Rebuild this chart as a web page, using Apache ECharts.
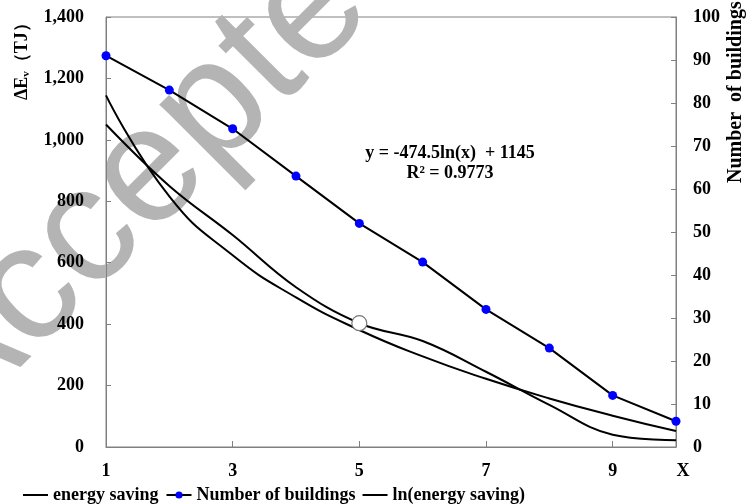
<!DOCTYPE html>
<html><head><meta charset="utf-8">
<script src="https://cdn.jsdelivr.net/npm/echarts@6/dist/echarts.min.js"></script>
<style>html,body{margin:0;padding:0;background:#fff}#c{width:750px;height:504px}</style>
</head><body><div id="c"></div>
<script>
const categories = ['1', '2', '3', '4', '5', '6', '7', '8', '9', 'X'];
const energySaving = [1050, 850, 690, 520, 403, 345, 245, 137, 40, 22];
const buildings = [91, 83, 74, 63, 52, 43, 32, 23, 12, 6];
const lnFit = [1145, 816, 624, 487, 381, 295, 222, 158, 102, 52];
const highlightIndex = 4;
const leftAxisRange = [0, 1400, 200];
const rightAxisRange = [0, 100, 10];
const equationText = ['y = -474.5ln(x)  + 1145', 'R² = 0.9773'];

const SERIF = '"Liberation Serif","Times New Roman",serif';
const chart = echarts.init(document.getElementById('c'), null, {renderer: 'canvas'});
const axisGray = '#808080';
const labelStyle = {color: '#000', fontFamily: SERIF, fontWeight: 'bold', fontSize: 18};
const lineIcon = 'path://M0,0L0.01,0M0,3.5H25V5.5H0ZM0,9L0.01,9';

chart.setOption({
  animation: false,
  backgroundColor: '#fff',
  grid: {left: 106, right: 74, top: 17, bottom: 57, show: true, borderColor: axisGray, borderWidth: 1, backgroundColor: 'transparent'},
  legend: {
    left: 18, top: 481, itemWidth: 25, itemHeight: 9, itemGap: 7,
    textStyle: {color: '#000', fontFamily: SERIF, fontWeight: 'bold', fontSize: 18},
    data: [
      {name: 'energy saving', icon: lineIcon, itemStyle: {color: '#000'}},
      {name: 'Number of buildings'},
      {name: 'ln(energy saving)', icon: lineIcon, itemStyle: {color: '#000'}}
    ]
  },
  xAxis: {
    type: 'category', data: categories, boundaryGap: false,
    axisLine: {lineStyle: {color: axisGray, width: 1}},
    axisTick: {show: true, inside: true, length: 6, lineStyle: {color: axisGray},
      interval: (i) => i > 0 && i < 9 && i % 2 === 0},
    axisLabel: Object.assign({}, labelStyle, {
      margin: 15,
      interval: (i) => i % 2 === 0 || i === categories.length - 1,
      formatter: (v) => v === 'X' ? '{x|X}' : v,
      rich: {x: {color: '#000', fontFamily: SERIF, fontWeight: 'bold', fontSize: 18, padding: [0, 0, 0, 14]}}
    }),
    splitLine: {show: false}
  },
  yAxis: [{
    type: 'value', min: leftAxisRange[0], max: leftAxisRange[1], interval: leftAxisRange[2],
    axisLine: {show: true, lineStyle: {color: axisGray}},
    axisTick: {show: true, inside: true, length: 5, lineStyle: {color: axisGray}},
    axisLabel: Object.assign({}, labelStyle, {margin: 22, formatter: v => v.toLocaleString('en-US')}),
    splitLine: {show: false}
  }, {
    type: 'value', min: rightAxisRange[0], max: rightAxisRange[1], interval: rightAxisRange[2],
    position: 'right',
    axisLine: {show: true, lineStyle: {color: axisGray}},
    axisTick: {show: true, inside: true, length: 5, lineStyle: {color: axisGray}},
    axisLabel: Object.assign({}, labelStyle, {margin: 17}),
    splitLine: {show: false}
  }],
  graphic: [
    {type: 'text', z: 0, x: 165, y: 158, rotation: 45 * Math.PI / 180, silent: true,
      style: {text: 'Accepted', font: '165px "Liberation Sans", Arial, sans-serif', fill: '#b4b4b4', align: 'center', verticalAlign: 'middle'}},
    {type: 'text', z: 10, x: 22, y: 100, rotation: Math.PI / 2,
      style: {text: '{a|ΔE}{s|v}{a|（TJ）}', align: 'left', verticalAlign: 'middle',
        rich: {a: {font: 'bold 18px ' + SERIF, fill: '#000'}, s: {font: 'bold 11px ' + SERIF, fill: '#000', padding: [8, 0, 0, 0]}}}},
    {type: 'text', z: 10, x: 736, y: 183, rotation: Math.PI / 2,
      style: {text: 'Number  of buildings', font: 'bold 20px ' + SERIF, fill: '#000', align: 'left', verticalAlign: 'middle'}},
    {type: 'text', z: 10, x: 450, y: 153,
      style: {text: equationText[0], font: 'bold 18px ' + SERIF, fill: '#000', align: 'center', verticalAlign: 'middle'}},
    {type: 'text', z: 10, x: 450, y: 173,
      style: {text: equationText[1], font: 'bold 18px ' + SERIF, fill: '#000', align: 'center', verticalAlign: 'middle'}}
  ],
  series: [{
    name: 'energy saving', type: 'line', yAxisIndex: 0, data: energySaving,
    smooth: 0.4, symbol: 'none', z: 3,
    lineStyle: {color: '#000', width: 2}, itemStyle: {color: '#000'},
    markPoint: {
      silent: true,
      data: [{coord: [highlightIndex, energySaving[highlightIndex]], symbol: 'circle', symbolSize: 15,
        itemStyle: {color: '#fff', borderColor: '#777', borderWidth: 1.2}, label: {show: false}}]
    }
  }, {
    name: 'Number of buildings', type: 'line', yAxisIndex: 1, data: buildings,
    symbol: 'circle', symbolSize: 9, showSymbol: true, z: 4,
    lineStyle: {color: '#000', width: 2}, itemStyle: {color: '#0000ff', borderWidth: 0}
  }, {
    name: 'ln(energy saving)', type: 'line', yAxisIndex: 0, data: lnFit,
    smooth: 0.5, symbol: 'none', z: 3,
    lineStyle: {color: '#000', width: 2}, itemStyle: {color: '#000'}
  }]
});
</script></body></html>
